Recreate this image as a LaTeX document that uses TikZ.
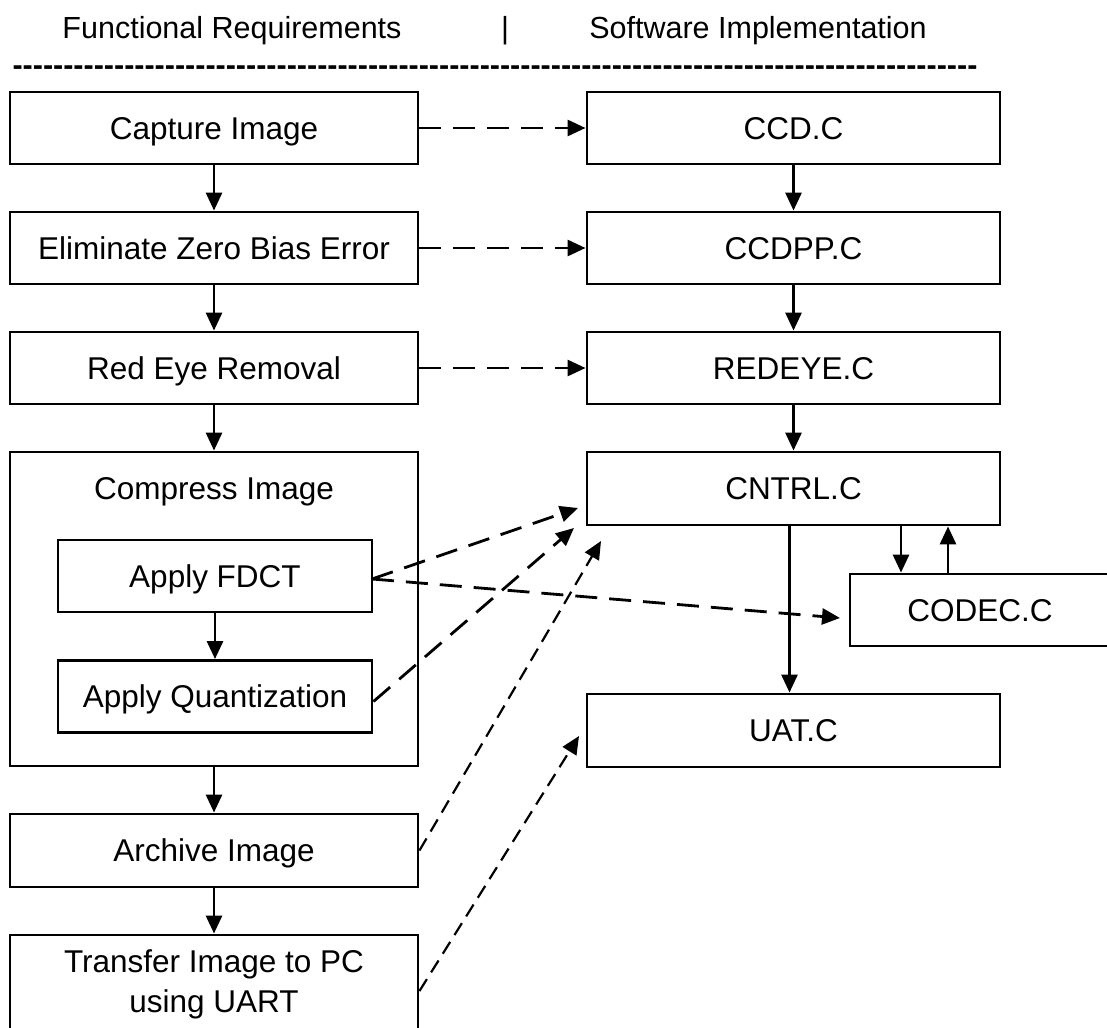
\documentclass[tikz,border=0pt]{standalone}
\usepackage{fontspec}
\setmainfont{Liberation Sans}
\usetikzlibrary{arrows.meta}
\begin{document}
\begin{tikzpicture}[x=1pt,y=-1pt,
  box/.style={draw,line width=2.9pt,inner sep=0pt,align=center,font=\fontsize{31.5}{40}\selectfont,text height=22.5pt,text depth=0pt},
  hdr/.style={inner sep=0pt,font=\fontsize{30.5}{36}\selectfont,text height=22pt,text depth=0pt},
  arr/.style={line width=2.9pt,-{Triangle[length=18pt,width=16pt]}},
  dsh/.style={line width=2.8pt,dash pattern=on 22pt off 12pt,-{Triangle[length=18pt,width=16pt]}},
  dshb/.style={line width=2.2pt,dash pattern=on 14pt off 8pt,-{Triangle[length=18pt,width=16pt]}}]
\useasboundingbox (0,0) rectangle (1107,1027);
\clip (0,0) rectangle (1107,1027);
% header
\node[hdr] (h1) at (232,28) {Functional Requirements};
\node[hdr] (h2) at (505,28) {|};
\node[hdr] (h3) at (758,28) {Software Implementation};
\node[anchor=base,inner sep=0pt,font=\fontsize{30.5}{36}\selectfont\bfseries] (hl) at (495,76) {\foreach \i in {1,...,95}{\hbox{-}}};
% left column
\node[box,minimum width=408pt,minimum height=72pt] (cap) at (214,128) {Capture Image};
\node[box,minimum width=408pt,minimum height=72pt] (elim) at (214,248) {Eliminate Zero Bias Error};
\node[box,minimum width=408pt,minimum height=72pt] (red) at (214,368) {Red Eye Removal};
\node[box,minimum width=408pt,minimum height=314pt] (comp) at (214,609) {};
\node[hdr,font=\fontsize{31.5}{40}\selectfont,text height=22.5pt] (compt) at (214,488) {Compress Image};
\node[box,minimum width=314pt,minimum height=72pt] (fdct) at (215,576) {Apply FDCT};
\node[box,minimum width=314pt,minimum height=72pt] (quant) at (215,696.5) {Apply Quantization};
\node[box,minimum width=408pt,minimum height=73pt] (arch) at (214,850.5) {Archive Image};
\node[box,minimum width=408pt,minimum height=98pt,text height=,text depth=] (trans) at (214,984) {Transfer Image to PC\\using UART};
% right column
\node[box,minimum width=413pt,minimum height=72pt] (ccd) at (793.5,128) {CCD.C};
\node[box,minimum width=413pt,minimum height=72pt] (ccdpp) at (793.5,248) {CCDPP.C};
\node[box,minimum width=413pt,minimum height=72pt] (redeye) at (793.5,368) {REDEYE.C};
\node[box,minimum width=413pt,minimum height=73pt] (cntrl) at (793.5,488.5) {CNTRL.C};
\node[box,minimum width=413pt,minimum height=73pt] (uat) at (793.5,730.5) {UAT.C};
\node[box,minimum width=260pt,minimum height=72pt] (codec) at (980,610) {CODEC.C};
% solid arrows
\draw[arr] (cap) -- (elim);
\draw[arr] (elim) -- (red);
\draw[arr] (red) -- (comp);
\draw[arr] (fdct) -- (quant);
\draw[arr] (comp) -- (arch);
\draw[arr] (arch) -- (trans);
\draw[arr] (ccd) -- (ccdpp);
\draw[arr] (ccdpp) -- (redeye);
\draw[arr] (redeye) -- (cntrl);
\draw[arr] ([xshift=-4pt]cntrl.south) -- ([xshift=-4pt]cntrl.south |- uat.north);
\draw[arr] ([xshift=107.5pt]cntrl.south) -- ([xshift=107.5pt]cntrl.south |- codec.north);
\draw[arr] ([xshift=154.5pt]cntrl.south |- codec.north) -- ([xshift=154.5pt]cntrl.south);
% dashed arrows
\draw[dsh] (cap) -- (ccd);
\draw[dsh] (elim) -- (ccdpp);
\draw[dsh] (red) -- (redeye);
\coordinate (t1) at (578,508);
\coordinate (t2) at (574,528);
\coordinate (t3) at (601,541);
\coordinate (t4) at (579,736);
\coordinate (t5) at (840,618);
\coordinate (s1) at (372,579);
\draw[dsh] (s1) -- (t1);
\draw[dsh] (s1) -- (t5);
\draw[dsh] ([yshift=-5pt]quant.east) -- (t2);
\draw[dshb] (arch.east) -- (t3);
\draw[dshb] ([yshift=-7pt]trans.east) -- (t4);
\end{tikzpicture}
\end{document}
